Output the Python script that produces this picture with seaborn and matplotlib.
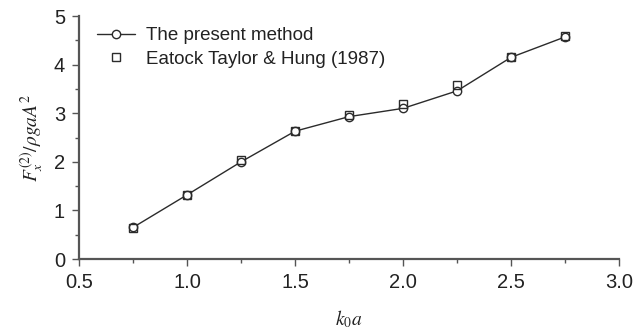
import matplotlib
matplotlib.use("Agg")
import matplotlib.pyplot as plt
from matplotlib.ticker import MultipleLocator
import seaborn as sns
import pandas as pd

# Dimensionless wavenumber k0*a
ka = [0.75, 1.0, 1.25, 1.5, 1.75, 2.0, 2.25, 2.5, 2.75]
# Mean drift force, present method
present = [0.65, 1.32, 2.00, 2.63, 2.93, 3.10, 3.46, 4.15, 4.57]
# Mean drift force, Eatock Taylor & Hung (1987)
eatock = [0.64, 1.32, 2.04, 2.63, 2.97, 3.18, 3.58, 4.15, 4.58]

sns.set_theme(style="ticks")
plt.rcParams["font.family"] = ["Liberation Sans", "DejaVu Sans"]
plt.rcParams["mathtext.fontset"] = "stix"

df_p = pd.DataFrame({"ka": ka, "F": present})
df_e = pd.DataFrame({"ka": ka, "F": eatock})

fig = plt.figure(figsize=(6.35, 3.3), dpi=100)
ax = fig.add_axes([0.1244, 0.215, 0.8506, 0.7365])

col = "#2b2b2b"
sns.lineplot(data=df_p, x="ka", y="F", ax=ax, color=col, lw=1.0,
             marker="o", markersize=6, markerfacecolor="white",
             markeredgecolor=col, markeredgewidth=1.0,
             label="The present method")
sns.lineplot(data=df_e, x="ka", y="F", ax=ax, color=col, lw=0,
             marker="s", markersize=5.5, markerfacecolor="none",
             markeredgecolor=col, markeredgewidth=1.0,
             label="Eatock Taylor & Hung (1987)")

ax.set_xlim(0.5, 3.0)
ax.set_ylim(0, 5)
ax.xaxis.set_major_locator(MultipleLocator(0.5))
ax.xaxis.set_minor_locator(MultipleLocator(0.25))
ax.yaxis.set_major_locator(MultipleLocator(1))
ax.yaxis.set_minor_locator(MultipleLocator(0.5))
ax.xaxis.set_major_formatter(matplotlib.ticker.FormatStrFormatter("%.1f"))

sns.despine(ax=ax)
for s in ["left", "bottom"]:
    ax.spines[s].set_color("#555555")
    ax.spines[s].set_linewidth(1.6)
ax.tick_params(which="major", direction="out", length=5, width=1.0,
               color="#555555", labelsize=14.5, labelcolor="#222222", pad=5)
ax.tick_params(which="minor", direction="out", length=3, width=1.0,
               color="#555555")

ax.set_xlabel(r"$k_0a$", fontsize=14, color="#222222", labelpad=12)
ax.set_ylabel(r"$F_x^{(2)}/\rho gaA^2$", fontsize=14, color="#222222", labelpad=6)

leg = ax.legend(loc="upper left", frameon=False, fontsize=13.5,
                handlelength=2.0, handletextpad=0.6, borderaxespad=0.0,
                bbox_to_anchor=(0.02, 0.985), labelspacing=0.35)
for t in leg.get_texts():
    t.set_color("#222222")

fig.savefig("out.png", dpi=100)
